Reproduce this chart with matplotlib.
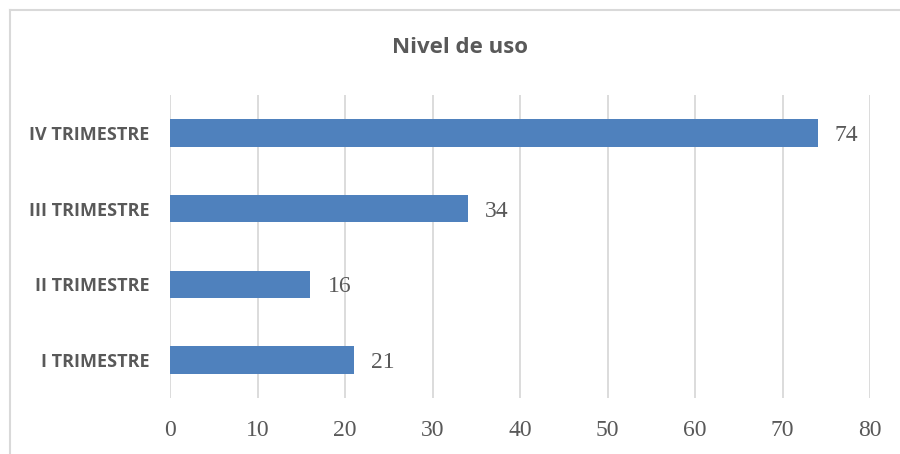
import matplotlib.pyplot as plt
from matplotlib.lines import Line2D

categorias = ["I TRIMESTRE", "II TRIMESTRE", "III TRIMESTRE", "IV TRIMESTRE"]
valores = [21, 16, 34, 74]
ticks_x = [0, 10, 20, 30, 40, 50, 60, 70, 80]

azul = "#4f81bd"
gris_texto = "#595959"
gris_rejilla = "#d9d9d9"

fig = plt.figure(figsize=(9, 4.54), dpi=100)
ax = fig.add_axes([170 / 900, 56 / 454, 700 / 900, 303 / 454])

# borde superior e izquierdo del área del gráfico
y_top = 1 - 9.5 / 454
x_left = 9.5 / 900
fig.lines.append(Line2D([x_left, 1], [y_top, y_top], transform=fig.transFigure,
                        color=gris_rejilla, linewidth=1.5))
fig.lines.append(Line2D([x_left, x_left], [0, y_top], transform=fig.transFigure,
                        color=gris_rejilla, linewidth=1.5))

pos = range(len(categorias))
barras = ax.barh(pos, valores, height=0.36, color=azul, zorder=3)

for b, v in zip(barras, valores):
    ax.text(b.get_width() + 2.0, b.get_y() + b.get_height() / 2, str(v),
            va="center_baseline", ha="left", fontsize=17, color=gris_texto,
            family="Liberation Serif")

ax.set_xlim(0, 80)
ax.set_ylim(-0.5, 3.5)
ax.set_xticks(ticks_x)
ax.set_xticklabels([str(t) for t in ticks_x], family="Liberation Serif",
                   fontsize=17, color=gris_texto)
ax.set_yticks(list(pos))
ax.set_yticklabels(categorias, fontweight="bold", fontsize=13,
                   color=gris_texto, family="Open Sans")
ax.tick_params(axis="x", length=0, pad=16)
ax.tick_params(axis="y", length=0, pad=15)

ax.grid(axis="x", color=gris_rejilla, linewidth=1.3, zorder=0)
for s in ax.spines.values():
    s.set_visible(False)

fig.text(0.511, 0.895, "Nivel de uso", ha="center", va="center",
         fontsize=16, fontweight="bold", color=gris_texto, family="Open Sans")

fig.savefig("out.png", dpi=100)
